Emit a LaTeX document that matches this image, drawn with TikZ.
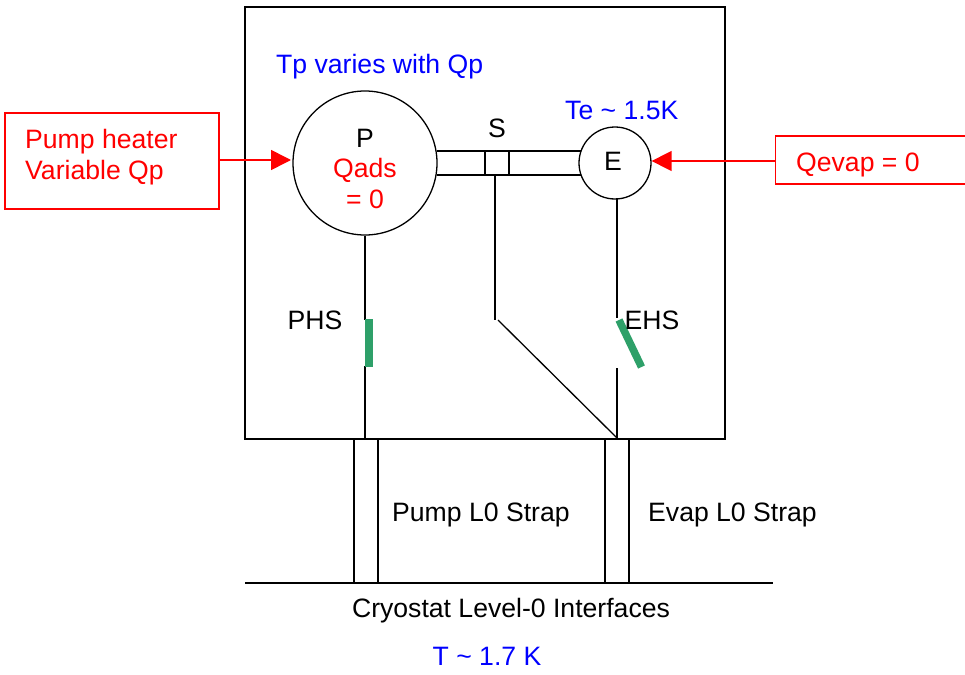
\documentclass[tikz,border=0pt]{standalone}
\usepackage{fontspec}
\setmainfont{Liberation Sans}
\usetikzlibrary{arrows.meta}
\definecolor{gr}{RGB}{46,160,105}
\definecolor{pured}{RGB}{255,0,0}
\tikzset{
 x=1pt,y=-1pt,
 ln/.style={draw=black,line width=1.3pt},
 redbox/.style={draw=pured,line width=1.6pt,rectangle,anchor=north west,inner sep=0pt,outer sep=0pt},
 lab/.style={font=\fontsize{26.6}{31}\selectfont,inner sep=0pt},
 blue1/.style={lab,text=blue},
 red1/.style={lab,text=pured},
 rarrow/.style={draw=pured,line width=1.6pt,-{Triangle[length=20pt,width=20pt]}},
 sw/.style={draw=gr,line width=7.5pt}
}
\begin{document}
\begin{tikzpicture}
\useasboundingbox (0,0) rectangle (965,674);
\fill[white] (0,0) rectangle (965,674);
\coordinate (boxtl) at (245,7);
\coordinate (boxbr) at (725,439);
\draw[ln] (boxtl) rectangle (boxbr);
\node[draw=black,line width=1.3pt,circle,minimum size=144pt,inner sep=0pt] (P) at (365,163) {};
\node[draw=black,line width=1.3pt,circle,minimum size=72pt,inner sep=0pt] (E) at (615,163) {};
\draw[ln] (437,151) -- (581,151) (437,175) -- (581,175);
\node[draw=black,line width=1.3pt,minimum width=24pt,minimum height=24pt,inner sep=0pt] (sbox) at (497,163) {};
\node[lab] at (365,138) {P};
\node[red1] at (365,170) {Qads};
\node[red1] at (365,199) {= 0};
\node[lab] at (613,161) {E};
\node[lab] at (497,128) {S};
\node[blue1,anchor=west] at (276,67) {Tp varies with Qp};
\node[blue1,anchor=west] at (565,110) {Te \textasciitilde{} 1.5K};
\node[redbox,minimum width=214pt,minimum height=96pt] (heater) at (5,113) {};
\node[red1,anchor=west] at (25,142) {Pump heater};
\node[red1,anchor=west] at (25,173) {Variable Qp};
\node[redbox,minimum width=195pt,minimum height=48pt] (qe) at (775.5,136) {};
\node[red1,anchor=west] at (796,165) {Qevap = 0};
\coordinate (hy) at (0,160);
\coordinate (ey) at (0,161);
\draw[rarrow] (heater.east |- hy) -- (291,160);
\draw[rarrow] (qe.west |- ey) -- (E.east |- ey);
\coordinate (p1) at (365,320);
\coordinate (p2) at (365,366);
\coordinate (pb) at (365,439);
\draw[ln] (P.south) -- (p1);
\draw[ln] (p2) -- (pb);
\draw[sw] (369,319) -- (369,367);
\coordinate (s0) at (495,175);
\coordinate (s1) at (495,320);
\coordinate (d1) at (498,320);
\coordinate (j) at (617,438);
\draw[ln] (s0) -- (s1);
\draw[ln] (d1) -- (j);
\coordinate (e0) at (617,198);
\coordinate (e1) at (617,318);
\coordinate (e2) at (617,368);
\draw[ln] (e0) -- (e1);
\draw[ln] (e2) -- (j);
\draw[sw] (619,320) -- (641.5,367);
\node[lab] at (315,320) {PHS};
\node[lab] at (652,320) {EHS};
\node[draw=black,line width=1.3pt,minimum width=24pt,minimum height=144pt,inner sep=0pt,anchor=north] (pl) at (366,439) {};
\node[draw=black,line width=1.3pt,minimum width=24pt,minimum height=144pt,inner sep=0pt,anchor=north] (el) at (617,439) {};
\coordinate (g1) at (245,583);
\coordinate (g2) at (773,583);
\draw[ln] (g1) -- (g2);
\node[lab,anchor=west] at (392,515) {Pump L0 Strap};
\node[lab,anchor=west] at (648,515) {Evap L0 Strap};
\node[lab] at (511,611) {Cryostat Level-0 Interfaces};
\node[blue1] at (487,656) {T \textasciitilde{} 1.7 K};
\end{tikzpicture}
\end{document}
